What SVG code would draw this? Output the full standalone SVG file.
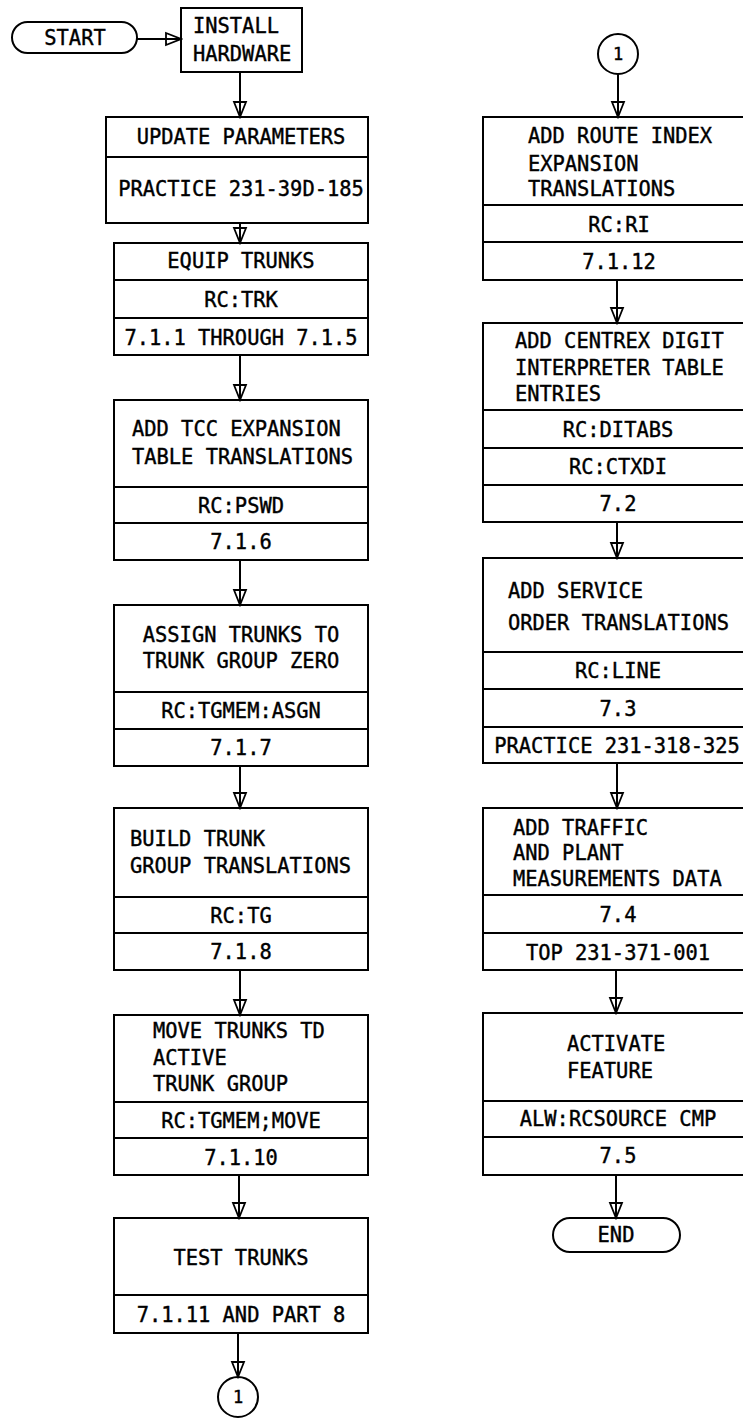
<svg xmlns="http://www.w3.org/2000/svg" width="743" height="1418" viewBox="0 0 743 1418">
<style>
.b{fill:none;stroke:#000;stroke-width:2}
.d{stroke:#000;stroke-width:2}
.t{font-family:"DejaVu Sans Mono","Liberation Mono",monospace;font-size:20.4px;fill:#000;stroke:#000;stroke-width:0.4}
.c{text-anchor:middle}
.s{font-size:17px}
.ln{stroke:#000;stroke-width:2;fill:none;marker-end:url(#ah)}
</style>
<defs>
<marker id="ah" viewBox="-17 -8 19 16" markerWidth="19" markerHeight="16" refX="0" refY="0" orient="auto" markerUnits="userSpaceOnUse">
<path d="M-15,-6 L0,0 L-15,6 Z" fill="none" stroke="#000" stroke-width="1.8" stroke-linejoin="miter"/>
</marker>
</defs>
<rect width="743" height="1418" fill="#fff"/>

<g id="connectors">
<line class="ln" x1="137" y1="39" x2="181" y2="39"/>
<line class="ln" x1="240" y1="72" x2="240" y2="117"/>
<line class="ln" x1="240" y1="223" x2="240" y2="243"/>
<line class="ln" x1="240" y1="355" x2="240" y2="400"/>
<line class="ln" x1="240" y1="560" x2="240" y2="605"/>
<line class="ln" x1="240" y1="766" x2="240" y2="808"/>
<line class="ln" x1="240" y1="970" x2="240" y2="1015"/>
<line class="ln" x1="239" y1="1175" x2="239" y2="1218"/>
<line class="ln" x1="238" y1="1333" x2="238" y2="1377"/>
<line class="ln" x1="618" y1="74" x2="618" y2="117"/>
<line class="ln" x1="617" y1="280" x2="617" y2="323"/>
<line class="ln" x1="617" y1="522" x2="617" y2="558"/>
<line class="ln" x1="617" y1="763" x2="617" y2="808"/>
<line class="ln" x1="616" y1="970" x2="616" y2="1013"/>
<line class="ln" x1="616" y1="1175" x2="616" y2="1218"/>
</g>

<g id="start">
<rect class="b" x="12" y="22" width="125" height="31" rx="15.5"/>
<text class="t c" x="75" y="45">START</text>
</g>

<g id="install">
<rect class="b" x="181" y="8" width="121" height="64"/>
<text class="t" x="193" y="33">INSTALL</text>
<text class="t" x="193" y="61">HARDWARE</text>
</g>

<g id="update">
<rect class="b" x="106" y="117" width="262" height="106"/>
<line class="d" x1="106" y1="157" x2="368" y2="157"/>
<text class="t c" x="241" y="144">UPDATE PARAMETERS</text>
<text class="t c" x="241" y="196">PRACTICE 231-39D-185</text>
</g>

<g id="equip">
<rect class="b" x="114" y="243" width="254" height="112"/>
<line class="d" x1="114" y1="280" x2="368" y2="280"/>
<line class="d" x1="114" y1="318" x2="368" y2="318"/>
<text class="t c" x="241" y="268">EQUIP TRUNKS</text>
<text class="t c" x="241" y="307">RC:TRK</text>
<text class="t c" x="241" y="345">7.1.1 THROUGH 7.1.5</text>
</g>

<g id="tcc">
<rect class="b" x="114" y="400" width="254" height="160"/>
<line class="d" x1="114" y1="487" x2="368" y2="487"/>
<line class="d" x1="114" y1="523" x2="368" y2="523"/>
<text class="t" x="132" y="436">ADD TCC EXPANSION</text>
<text class="t" x="132" y="464">TABLE TRANSLATIONS</text>
<text class="t c" x="241" y="513">RC:PSWD</text>
<text class="t c" x="241" y="549">7.1.6</text>
</g>

<g id="assign">
<rect class="b" x="114" y="605" width="254" height="161"/>
<line class="d" x1="114" y1="692" x2="368" y2="692"/>
<line class="d" x1="114" y1="729" x2="368" y2="729"/>
<text class="t c" x="241" y="642">ASSIGN TRUNKS TO</text>
<text class="t c" x="241" y="668">TRUNK GROUP ZERO</text>
<text class="t c" x="241" y="718">RC:TGMEM:ASGN</text>
<text class="t c" x="241" y="755">7.1.7</text>
</g>

<g id="build">
<rect class="b" x="114" y="808" width="254" height="162"/>
<line class="d" x1="114" y1="897" x2="368" y2="897"/>
<line class="d" x1="114" y1="933" x2="368" y2="933"/>
<text class="t" x="130" y="846">BUILD TRUNK</text>
<text class="t" x="130" y="873">GROUP TRANSLATIONS</text>
<text class="t c" x="241" y="923">RC:TG</text>
<text class="t c" x="241" y="959">7.1.8</text>
</g>

<g id="move">
<rect class="b" x="114" y="1015" width="254" height="160"/>
<line class="d" x1="114" y1="1102" x2="368" y2="1102"/>
<line class="d" x1="114" y1="1138" x2="368" y2="1138"/>
<text class="t" x="153" y="1038">MOVE TRUNKS TD</text>
<text class="t" x="153" y="1065">ACTIVE</text>
<text class="t" x="153" y="1091">TRUNK GROUP</text>
<text class="t c" x="241" y="1128">RC:TGMEM;MOVE</text>
<text class="t c" x="241" y="1165">7.1.10</text>
</g>

<g id="test">
<rect class="b" x="114" y="1218" width="254" height="115"/>
<line class="d" x1="114" y1="1295" x2="368" y2="1295"/>
<text class="t c" x="241" y="1265">TEST TRUNKS</text>
<text class="t c" x="241" y="1322">7.1.11 AND PART 8</text>
</g>

<g id="conn-out">
<circle class="b" cx="238" cy="1397" r="20"/>
<text class="t c s" x="238" y="1403">1</text>
</g>

<g id="conn-in">
<circle class="b" cx="618" cy="54" r="20"/>
<text class="t c s" x="618" y="60">1</text>
</g>

<g id="route">
<rect class="b" x="483" y="117" width="272" height="163"/>
<line class="d" x1="483" y1="205" x2="755" y2="205"/>
<line class="d" x1="483" y1="242" x2="755" y2="242"/>
<text class="t" x="528" y="143">ADD ROUTE INDEX</text>
<text class="t" x="528" y="171">EXPANSION</text>
<text class="t" x="528" y="196">TRANSLATIONS</text>
<text class="t c" x="619" y="232">RC:RI</text>
<text class="t c" x="619" y="269">7.1.12</text>
</g>

<g id="centrex">
<rect class="b" x="483" y="323" width="272" height="199"/>
<line class="d" x1="483" y1="410" x2="755" y2="410"/>
<line class="d" x1="483" y1="448" x2="755" y2="448"/>
<line class="d" x1="483" y1="485" x2="755" y2="485"/>
<text class="t" x="515" y="348">ADD CENTREX DIGIT</text>
<text class="t" x="515" y="375">INTERPRETER TABLE</text>
<text class="t" x="515" y="401">ENTRIES</text>
<text class="t c" x="618" y="437">RC:DITABS</text>
<text class="t c" x="618" y="474">RC:CTXDI</text>
<text class="t c" x="618" y="511">7.2</text>
</g>

<g id="service">
<rect class="b" x="483" y="558" width="272" height="205"/>
<line class="d" x1="483" y1="652" x2="755" y2="652"/>
<line class="d" x1="483" y1="689" x2="755" y2="689"/>
<line class="d" x1="483" y1="727" x2="755" y2="727"/>
<text class="t" x="508" y="598">ADD SERVICE</text>
<text class="t" x="508" y="630">ORDER TRANSLATIONS</text>
<text class="t c" x="618" y="678">RC:LINE</text>
<text class="t c" x="618" y="716">7.3</text>
<text class="t c" x="617" y="753">PRACTICE 231-318-325</text>
</g>

<g id="traffic">
<rect class="b" x="483" y="808" width="272" height="162"/>
<line class="d" x1="483" y1="895" x2="755" y2="895"/>
<line class="d" x1="483" y1="933" x2="755" y2="933"/>
<text class="t" x="513" y="835">ADD TRAFFIC</text>
<text class="t" x="513" y="860">AND PLANT</text>
<text class="t" x="513" y="886">MEASUREMENTS DATA</text>
<text class="t c" x="618" y="922">7.4</text>
<text class="t c" x="618" y="960">TOP 231-371-001</text>
</g>

<g id="activate">
<rect class="b" x="483" y="1013" width="272" height="162"/>
<line class="d" x1="483" y1="1101" x2="755" y2="1101"/>
<line class="d" x1="483" y1="1137" x2="755" y2="1137"/>
<text class="t" x="567" y="1051">ACTIVATE</text>
<text class="t" x="567" y="1078">FEATURE</text>
<text class="t c" x="618" y="1126">ALW:RCSOURCE CMP</text>
<text class="t c" x="618" y="1163">7.5</text>
</g>

<g id="end">
<rect class="b" x="553" y="1218" width="127" height="34" rx="17"/>
<text class="t c" x="616" y="1242">END</text>
</g>
</svg>
